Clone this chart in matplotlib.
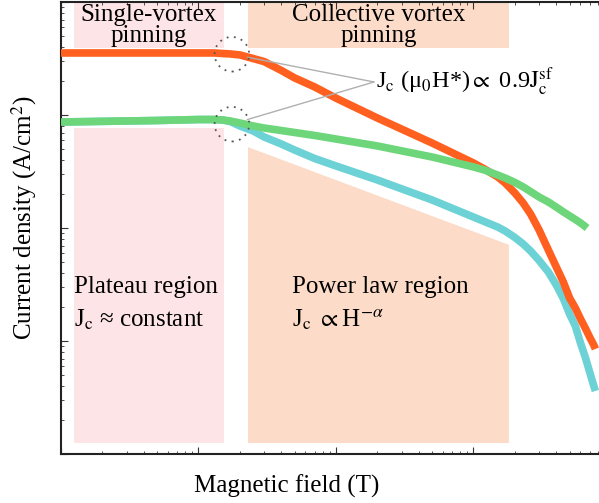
import numpy as np
import matplotlib
matplotlib.use('Agg')
import matplotlib.pyplot as plt

plt.rcParams['font.family'] = ['Liberation Serif', 'DejaVu Serif']
plt.rcParams['mathtext.fontset'] = 'stix'

# field (T) and critical current density (A/cm^2) for the three schematic curves
field_orange = [0.01, 0.05, 0.1, 0.13, 0.15, 0.17, 0.2, 0.25, 0.3, 0.4, 0.5, 0.7, 1, 2, 5,
                10, 12, 15, 17, 20, 23, 26, 30, 35, 40, 45, 50, 55, 60, 65, 70, 75, 77]
jc_orange = [3.54e7, 3.54e7, 3.54e7, 3.54e7, 3.50e7, 3.47e7, 3.40e7, 3.16e7, 2.97e7, 2.48e7,
             2.13e7, 1.77e7, 1.41e7, 9.4e6, 5.65e6, 3.76e6, 3.33e6, 2.83e6, 2.50e6, 2.04e6,
             1.66e6, 1.33e6, 9.6e5, 6.4e5, 4.52e5, 3.33e5, 2.40e5, 1.96e5, 1.57e5, 1.30e5,
             1.08e5, 9.2e4, 8.5e4]

field_green = [0.01, 0.05, 0.1, 0.13, 0.15, 0.17, 0.2, 0.25, 0.3, 0.4, 0.5, 0.7, 1, 2, 5,
               10, 12, 15, 17, 20, 23, 26, 30, 35, 40, 45, 50, 55, 60, 65, 67]
jc_green = [8.67e6, 8.94e6, 9.12e6, 9.12e6, 9.03e6, 8.85e6, 8.5e6, 8.0e6, 7.67e6, 7.29e6,
            7.0e6, 6.59e6, 6.13e6, 5.32e6, 4.25e6, 3.47e6, 3.26e6, 2.94e6, 2.77e6, 2.53e6,
            2.31e6, 2.10e6, 1.88e6, 1.70e6, 1.53e6, 1.39e6, 1.28e6, 1.19e6, 1.11e6, 1.03e6,
            1.0e6]

field_cyan = [0.01, 0.05, 0.1, 0.13, 0.15, 0.17, 0.2, 0.25, 0.3, 0.4, 0.5, 0.7, 1, 2, 5,
              10, 12, 15, 17, 20, 23, 26, 30, 35, 40, 45, 50, 55, 60, 65, 70, 75, 77]
jc_cyan = [8.67e6, 8.94e6, 9.12e6, 9.12e6, 9.03e6, 8.76e6, 8.0e6, 7.22e6, 6.39e6, 5.54e6,
           4.9e6, 4.12e6, 3.54e6, 2.66e6, 1.77e6, 1.25e6, 1.14e6, 1.02e6, 9.4e5, 8.24e5,
           7.21e5, 6.26e5, 5.16e5, 4.08e5, 3.13e5, 2.38e5, 1.73e5, 1.36e5, 9.6e4, 7.2e4,
           5.3e4, 4.0e4, 3.61e4]

# crossover field mu0H* where Jc drops to 0.9 Jc(self field)
knee_field = 0.175
knee_jc = [3.45e7, 8.3e6]
note_point = (1.89, 1.96e7)

# shaded regions
plateau_x = (0.0124, 0.153)
power_x = (0.229, 18.1)
header_y = (3.9e7, 1e8)
plateau_y = (1.25e4, 7.67e6)
power_top = (5.2e6, 7.1e5)
power_bottom = 1.25e4

pink = '#fde4e6'
peach = '#fcdcc8'

fig = plt.figure(figsize=(5.99, 5.03), dpi=100)
ax = fig.add_axes([61 / 599, 49 / 503, 538 / 599, 452 / 503])
ax.set_xscale('log')
ax.set_yscale('log')
ax.set_xlim(0.01, 81.8)
ax.set_ylim(1e4, 1e8)

ax.fill_between(plateau_x, header_y[0], header_y[1], color=pink, lw=0, zorder=0)
ax.fill_between(plateau_x, plateau_y[0], plateau_y[1], color=pink, lw=0, zorder=0)
ax.fill_between(power_x, header_y[0], header_y[1], color=peach, lw=0, zorder=0)
ax.fill([power_x[0], power_x[1], power_x[1], power_x[0]],
        [power_top[0], power_top[1], power_bottom, power_bottom], color=peach, lw=0, zorder=0)

line_kw = dict(lw=5.5, solid_capstyle='butt', solid_joinstyle='round')
ax.plot(field_cyan, jc_cyan, color='#6cd2d6', zorder=2, **line_kw)
ax.plot(field_orange, jc_orange, color='#ff5f1f', zorder=3, **line_kw)
ax.plot(field_green, jc_green, color='#6ed67a', zorder=4, **line_kw)

ax.scatter([knee_field] * 2, knee_jc, s=620, facecolors='none', edgecolors='#555555',
           linewidths=1.3, linestyles=(0, (1, 3)), zorder=5)
for j in knee_jc:
    ax.annotate('', xy=(knee_field, j), xytext=note_point,
                arrowprops=dict(arrowstyle='-', color='#b0b0b0', lw=1.0, shrinkA=0, shrinkB=11.5))
ax.text(1.95, note_point[1], r'J$_\mathrm{c}$ (μ$_\mathrm{0}$H*)$\propto$ 0.9$\mathrm{J_c^{sf}}$',
        fontsize=17.5, va='center', ha='left')

fs = 18
ax.text(np.sqrt(plateau_x[0] * plateau_x[1]), 6.2e7, 'Single-vortex\npinning',
        fontsize=fs, ha='center', va='center', linespacing=0.9)
ax.text(np.sqrt(power_x[0] * power_x[1]), 6.2e7, 'Collective vortex\npinning',
        fontsize=fs, ha='center', va='center', linespacing=0.9)
ax.text(0.0124, 3.0e5, 'Plateau region', fontsize=fs, va='center')
ax.text(0.0124, 1.53e5, r'J$_\mathrm{c}$ ≈ constant', fontsize=fs, va='center')
ax.text(0.479, 3.0e5, 'Power law region', fontsize=fs, va='center')
ax.text(0.479, 1.53e5, r'J$_\mathrm{c}$ $\propto$H$^{-\alpha}$', fontsize=fs, va='center')

ax.set_xlabel('Magnetic field (T)', fontsize=fs)
ax.set_ylabel(r'Current density (A/cm$^\mathrm{2}$)', fontsize=fs)
ax.xaxis.set_label_coords(226 / 538, -0.046)
ax.yaxis.set_label_coords(-0.040, 0.522)

for side in ['left', 'bottom', 'top']:
    ax.spines[side].set_linewidth(1.5)
    ax.spines[side].set_color('#222222')
ax.spines['right'].set_visible(False)
ax.tick_params(which='both', direction='in', top=True, right=False,
               labelleft=False, labelbottom=False, color='#333333')
ax.tick_params(which='major', length=5, width=0.8)
ax.tick_params(which='minor', length=2.5, width=0.6)

fig.savefig('out.png', dpi=100)
